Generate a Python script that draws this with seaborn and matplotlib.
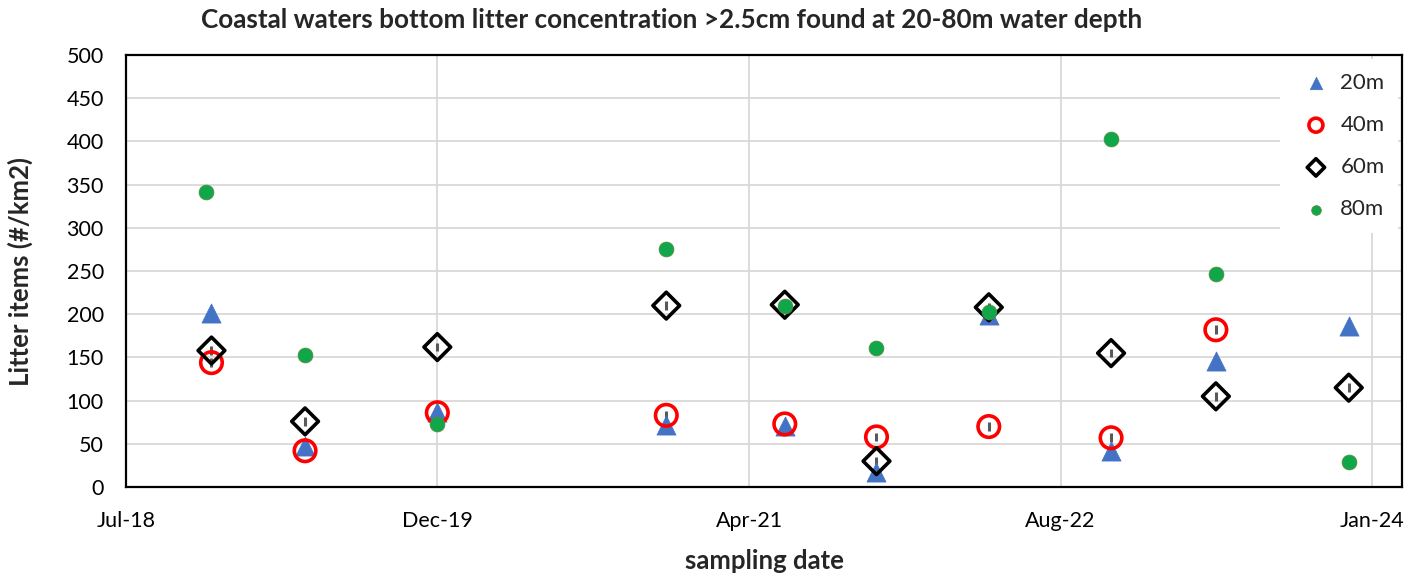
import numpy as np
import pandas as pd
import matplotlib
matplotlib.use("Agg")
import matplotlib.pyplot as plt
import matplotlib.dates as mdates
import seaborn as sns

# ---- data ----
sampling_dates = ["2018-12-09", "2019-05-08", "2019-12-06", "2020-12-07", "2021-06-15",
                  "2021-11-09", "2022-05-08", "2022-11-20", "2023-05-07", "2023-12-06"]
sampling_dates_80m = ["2018-12-01", "2019-05-08", "2019-12-06", "2020-12-07", "2021-06-15",
                      "2021-11-09", "2022-05-08", "2022-11-20", "2023-05-07", "2023-12-06"]
litter_20m = [201, 48, 87, 72, 71, 17, 199, 42, 146, 186]
litter_40m = [144, 42, 86, 83, 73, 58, 70, 57, 182, np.nan]
litter_60m = [158, 76, 162, 210, 211, 30, 208, 155, 105, 115]
litter_80m = [341, 153, 73, 275, 210, 161, 203, 403, 247, 29]
err_40m = [5, 5, 5, 5, 5, 5, 5, 5, 5, 5]
err_60m = [5, 5, 5, 5, 5, 5, 5, 5, 5, 5]
tick_dates = ["2018-07-25", "2019-12-06", "2021-04-19", "2022-08-31", "2024-01-13"]
axis_start = "2018-07-25"
axis_end = "2024-03-01"
y_max = 500
y_step = 50

title = "Coastal waters bottom litter concentration >2.5cm found at 20-80m water depth"
xlabel = "sampling date"
ylabel = "Litter items (#/km2)"

# ---- styling ----
sns.set_theme(style="white")
plt.rcParams["font.family"] = ["Lato", "DejaVu Sans"]

fig = plt.figure(figsize=(14.19, 5.73), dpi=100)
ax = fig.add_axes([0.0888, 0.150, 0.8995, 0.754])

d = pd.to_datetime(sampling_dates)
d80 = pd.to_datetime(sampling_dates_80m)

grid_c = "#d9d9d9"
ax.set_axisbelow(True)
ax.grid(True, color=grid_c, lw=1.3)

ax.errorbar(d, litter_40m, yerr=err_40m, fmt="none", ecolor="#595959", elinewidth=2.2, capsize=0, zorder=2)
ax.errorbar(d, litter_60m, yerr=err_60m, fmt="none", ecolor="#595959", elinewidth=2.2, capsize=0, zorder=2)

sns.scatterplot(x=d, y=litter_20m, ax=ax, marker="^", s=190, color="#4472C4",
                edgecolor="#4472C4", linewidth=0.5, label="20m", zorder=3)
sns.scatterplot(x=d, y=litter_40m, ax=ax, marker="o", s=240, facecolor="none",
                edgecolor="#FF0000", linewidth=2.6, label="40m", zorder=4)
sns.scatterplot(x=d, y=litter_60m, ax=ax, marker="D", s=185, facecolor="none",
                edgecolor="black", linewidth=2.6, label="60m", zorder=5)
sns.scatterplot(x=d80, y=litter_80m, ax=ax, marker="o", s=115, color="#12A64A",
                edgecolor="#5a8a3a", linewidth=0.5, label="80m", zorder=6)

ax.set_xlim(pd.Timestamp(axis_start), pd.Timestamp(axis_end))
ax.set_ylim(0, y_max)
ax.set_yticks(np.arange(0, y_max + 1, y_step))
ax.set_xticks(pd.to_datetime(tick_dates))
ax.xaxis.set_major_formatter(mdates.DateFormatter("%b-%y"))
ax.tick_params(axis="both", length=0, labelsize=15.5, colors="#000000")
ax.tick_params(axis="x", pad=17)
ax.tick_params(axis="y", pad=16)

for s in ax.spines.values():
    s.set_visible(True)
    s.set_color("black")
    s.set_linewidth(1.6)

ax.set_xlabel(xlabel, fontsize=18.5, fontweight="bold", labelpad=13)
ax.set_ylabel(ylabel, fontsize=18.5, fontweight="bold", labelpad=24)
fig.text(0.473, 0.965, title, ha="center", va="center", fontsize=18.8, fontweight="bold")

leg = ax.legend(loc="upper right", frameon=True, fontsize=16, facecolor="white",
                edgecolor="none", framealpha=1, labelspacing=1.0, handletextpad=0.1,
                borderaxespad=0.2, markerscale=0.65, borderpad=0.6)

fig.savefig("out.png", dpi=100)
